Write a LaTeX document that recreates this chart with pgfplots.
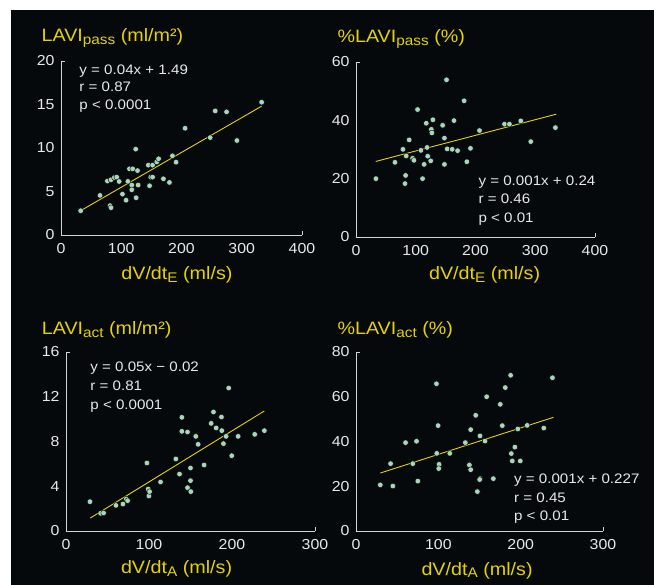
\documentclass[border=0pt]{standalone}
\usepackage{pgfplots}
\pgfplotsset{compat=1.18}
\usepackage{fontspec}
\setmainfont{Liberation Sans}[FakeStretch=1.1]
\definecolor{bg}{HTML}{05090C}
\definecolor{ylw}{HTML}{E6D200}
\definecolor{dotc}{HTML}{A8D6BC}
\definecolor{axc}{HTML}{D4D4D4}
\definecolor{txt}{HTML}{E8E8E8}
\pgfplotsset{
  panel/.style={
    scale only axis, clip=false,
    axis x line*=bottom, axis y line*=left,
    axis line style={draw=axc, line width=0.8pt},
    major tick length=0pt,
    tick style={draw=axc, line width=0.8pt},
    /pgf/number format/assume math mode=true,
    tick label style={text=txt, font=\fontsize{14.5}{14.5}\selectfont},
    xticklabel style={yshift=-5bp},
    yticklabel style={xshift=-3bp},
    extra tick style={major tick length=3.5bp, tick align=inside},
    extra x tick labels={}, extra y tick labels={},
  },
  dots/.style={only marks, mark=*, mark size=2.8bp, mark options={draw=none, fill=dotc}},
  fitl/.style={no marks, draw=ylw, line width=0.9pt},
}
\newcommand{\ttl}{\fontsize{18}{18}\selectfont\color{ylw}}
\newcommand{\sub}[1]{\raisebox{-0.3ex}{\fontsize{14}{14}\selectfont #1}}
\newcommand{\ann}{\fontsize{13.8}{13.8}\selectfont\color{txt}}
\begin{document}
\begin{tikzpicture}
\path[use as bounding box] (0,0) rectangle (654bp,585bp);
\fill[white] (0,0) rectangle (654bp,585bp);
\fill[bg] (11bp,0) rectangle (654bp,575bp);

% Panel 1
\begin{axis}[panel, at={(61bp,350bp)}, anchor=south west, width=241bp, height=174bp,
  xmin=0, xmax=400, ymin=0, ymax=20, xtick={0,100,200,300,400}, ytick={0,5,10,15,20},
  extra x ticks={400}, extra y ticks={20}]
\addplot[fitl] coordinates {(33,2.81) (333,14.81)};
\addplot[dots] coordinates {
(32.7,2.79) (64.8,4.55) (77,6.2) (83,6.35) (88.6,6.6) (92.5,6.65) (96.5,6.15)
(81.4,3.37) (83,3.14) (102,4.7) (108,4.0) (111,6.16) (113.6,7.6) (119,7.6)
(117.5,5.74) (117.5,5.2) (124,9.87) (124.7,4.28) (127,7.4) (128,5.74)
(145,8.03) (147,5.66) (149,6.65) (152,8.03) (152,6.65) (159,8.4) (162,8.76)
(170,6.46) (180,6.04) (185,9.1) (191,8.37) (206,12.27) (247.6,11.2)
(256,14.26) (274.8,14.15) (292,10.86) (333,15.26)};
\node[anchor=base west, text=txt] at (axis description cs:0.062,0.925) {\ann y = 0.04x + 1.49};
\node[anchor=base west, text=txt] at (axis description cs:0.062,0.825) {\ann r = 0.87};
\node[anchor=base west, text=txt] at (axis description cs:0.062,0.724) {\ann p < 0.0001};
\node[anchor=base west] at (axis description cs:-0.095,1.111) {\ttl LAVI\sub{pass} (ml/m²)};
\node[anchor=base] at (axis description cs:0.481,-0.255) {\ttl dV/dt\sub{E} (ml/s)};
\end{axis}

% Panel 2
\begin{axis}[panel, at={(356bp,348bp)}, anchor=south west, width=239bp, height=175bp,
  xmin=0, xmax=400, ymin=0, ymax=60, xtick={0,100,200,300,400}, ytick={0,20,40,60},
  extra x ticks={400}, extra y ticks={60}]
\addplot[fitl] coordinates {(33,25.9) (335,42.1)};
\addplot[dots] coordinates {
(33.4,20.0) (65.2,25.6) (78.6,30.06) (84,27.8) (83,21.1) (82,18.3) (89,33.3)
(94.7,27.0) (97,26.3) (103,43.7) (108.6,29.7) (111.4,20.0) (114,24.9)
(117.6,39.0) (119,30.7) (120,27.7) (126,36.9) (127,35.7) (128.7,40.2)
(125,26.1) (145,38.3) (148,33.9) (148,24.9) (151.5,53.9) (152.6,30.2)
(161,30.06) (164,39.9) (170,29.6) (181,46.7) (185.5,25.8) (191.6,30.4)
(206.7,36.5) (248.5,38.7) (256.8,38.7) (275.8,39.8) (292.5,32.7) (333.7,37.5)};
\node[anchor=base west] at (axis description cs:0.498,0.297) {\ann y = 0.001x + 0.24};
\node[anchor=base west] at (axis description cs:0.498,0.189) {\ann r = 0.46};
\node[anchor=base west] at (axis description cs:0.498,0.082) {\ann p < 0.01};
\node[anchor=base west] at (axis description cs:-0.092,1.11) {\ttl \%LAVI\sub{pass} (\%)};
\node[anchor=base] at (axis description cs:0.538,-0.242) {\ttl dV/dt\sub{E} (ml/s)};
\end{axis}

% Panel 3
\begin{axis}[panel, at={(66bp,54bp)}, anchor=south west, width=249bp, height=179bp,
  xmin=0, xmax=300, ymin=0, ymax=16, xtick={0,100,200,300}, ytick={0,4,8,12,16},
  extra x ticks={300}, extra y ticks={16}]
\addplot[fitl] coordinates {(29.3,1.16) (239,10.73)};
\addplot[dots] coordinates {
(28.9,2.62) (41.7,1.58) (45.3,1.61) (60.2,2.29) (68.6,2.41) (72.6,2.86)
(74.2,2.71) (97.5,6.08) (99,3.75) (99.9,3.13) (100.7,3.52) (113.9,4.38)
(132.4,6.44) (136.8,5.09) (139.6,10.16) (139.6,8.91) (146.4,8.85) (146.4,3.87)
(150,5.63) (150,4.5) (150.4,3.52) (156.4,8.46) (159.2,7.75) (166.4,5.9)
(174.9,9.62) (177.7,10.64) (180.9,9.21) (187.3,10.19) (187.7,8.97) (189.7,7.81)
(192.9,8.46) (196,12.78) (199.7,6.73) (207.4,8.46) (227.4,8.64) (239,8.97)};
\node[anchor=base west] at (axis description cs:0.084,0.89) {\ann y = 0.05x − 0.02};
\node[anchor=base west] at (axis description cs:0.084,0.784) {\ann r = 0.81};
\node[anchor=base west] at (axis description cs:0.084,0.676) {\ann p < 0.0001};
\node[anchor=base west] at (axis description cs:-0.111,1.099) {\ttl LAVI\sub{act} (ml/m²)};
\node[anchor=base] at (axis description cs:0.444,-0.236) {\ttl dV/dt\sub{A} (ml/s)};
\end{axis}

% Panel 4
\begin{axis}[panel, at={(356bp,54bp)}, anchor=south west, width=247bp, height=179bp,
  xmin=0, xmax=300, ymin=0, ymax=80, xtick={0,100,200,300}, ytick={0,20,40,60,80},
  extra x ticks={300}, extra y ticks={80}]
\addplot[fitl] coordinates {(29.5,25.9) (239.8,50.8)};
\addplot[dots] coordinates {
(29.5,20.6) (42,30.1) (44.8,20.1) (60.2,39.5) (69,30.1) (73.5,40.1) (75.1,22.3)
(97.7,65.8) (98.1,34.7) (99.7,47.1) (100.9,29.8) (100.5,27.9) (113.9,34.7)
(132.8,39.5) (137.7,29.5) (139.3,45.3) (139.3,27.4) (145.4,51.7) (147.4,17.6)
(150.6,42.5) (150.6,23.4) (150.2,23.0) (156.7,40.2) (158.7,60.0) (166.8,23.4)
(175.2,56.6) (177.7,47.1) (181.3,64.1) (187.8,69.6) (188.6,34.6) (189.8,31.3)
(193,37.5) (196.6,45.6) (199.5,31.3) (207.9,47.2) (228.1,46.0) (238.6,68.5)};
\node[anchor=base west] at (axis description cs:0.626,0.263) {\ann y = 0.001x + 0.227};
\node[anchor=base west] at (axis description cs:0.626,0.16) {\ann r = 0.45};
\node[anchor=base west] at (axis description cs:0.626,0.058) {\ann p < 0.01};
\node[anchor=base west] at (axis description cs:-0.089,1.099) {\ttl \%LAVI\sub{act} (\%)};
\node[anchor=base] at (axis description cs:0.49,-0.246) {\ttl dV/dt\sub{A} (ml/s)};
\end{axis}
\end{tikzpicture}
\end{document}
